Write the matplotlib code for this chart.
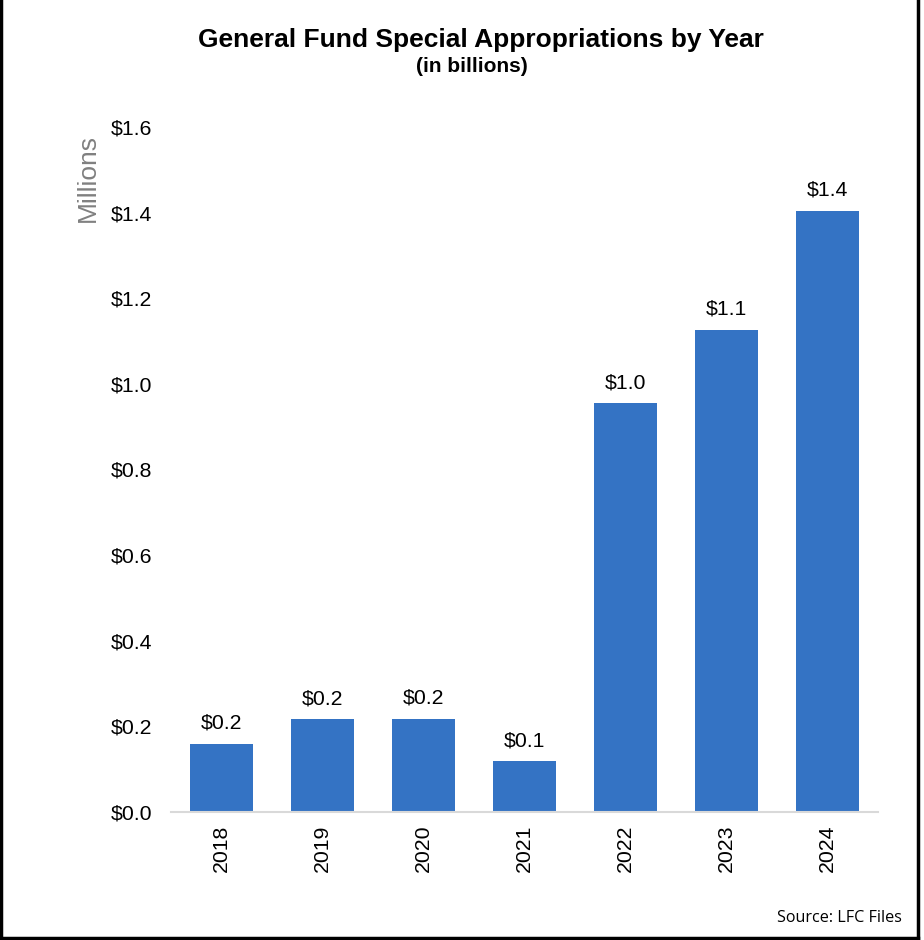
import matplotlib
matplotlib.use("Agg")
import matplotlib.pyplot as plt

years = ["2018", "2019", "2020", "2021", "2022", "2023", "2024"]
values = [0.16, 0.217, 0.218, 0.119, 0.955, 1.126, 1.404]
labels = ["$0.2", "$0.2", "$0.2", "$0.1", "$1.0", "$1.1", "$1.4"]
yticks = [0.0, 0.2, 0.4, 0.6, 0.8, 1.0, 1.2, 1.4, 1.6]
ytick_labels = ["$0.0", "$0.2", "$0.4", "$0.6", "$0.8", "$1.0", "$1.2", "$1.4", "$1.6"]

plt.rcParams['font.family'] = ['Liberation Sans', 'DejaVu Sans']

fig = plt.figure(figsize=(9.24, 9.4), dpi=100)
ax = fig.add_axes([171/924, 1-812/940, (878-171)/924, (812-127)/940])

x = list(range(len(years)))
ax.bar(x, values, width=0.62, color='#3473C4', zorder=2)
for xi, v, lab in zip(x, values, labels):
    ax.annotate(lab, (xi, v), xytext=(0, 10.8), textcoords='offset points',
                ha='center', va='baseline', fontsize=15.3, color='#000000')

ax.set_xlim(-0.5, 6.5)
ax.set_ylim(0, 1.6)
ax.set_yticks(yticks)
ax.set_yticklabels(ytick_labels, fontsize=15.3)
ax.set_xticks(x)
ax.set_xticklabels(years, rotation=90, fontsize=15.3)
ax.tick_params(axis='both', length=0)
ax.tick_params(axis='y', pad=13.5)
ax.tick_params(axis='x', pad=9)
for s in ['top', 'right', 'left']:
    ax.spines[s].set_visible(False)
ax.spines['bottom'].set_color('#D9D9D9')
ax.spines['bottom'].set_linewidth(1.5)

fig.text(88/924, 1-178.5/940, "Millions", rotation=90, ha='center', va='center',
         fontsize=19, color='#808080')
fig.text(481/924, 1-40/940, "General Fund Special Appropriations by Year",
         ha='center', va='center', fontsize=19, fontweight='bold')
fig.text(472/924, 1-67/940, "(in billions)", ha='center', va='center',
         fontsize=15, fontweight='bold')
fig.text(902/924, 1-918/940, "Source: LFC Files", ha='right', va='center',
         fontsize=11.6, family=['Open Sans', 'DejaVu Sans'])

# frame on left, bottom, right
lw = 2.5
fig.add_artist(plt.Line2D([1/924, 1/924], [1, 2/940], color='black', lw=lw, transform=fig.transFigure))
fig.add_artist(plt.Line2D([1/924, 918/924], [2/940, 2/940], color='black', lw=lw, transform=fig.transFigure))
fig.add_artist(plt.Line2D([918/924, 918/924], [1, 2/940], color='black', lw=lw, transform=fig.transFigure))

fig.savefig("out.png", dpi=100)
